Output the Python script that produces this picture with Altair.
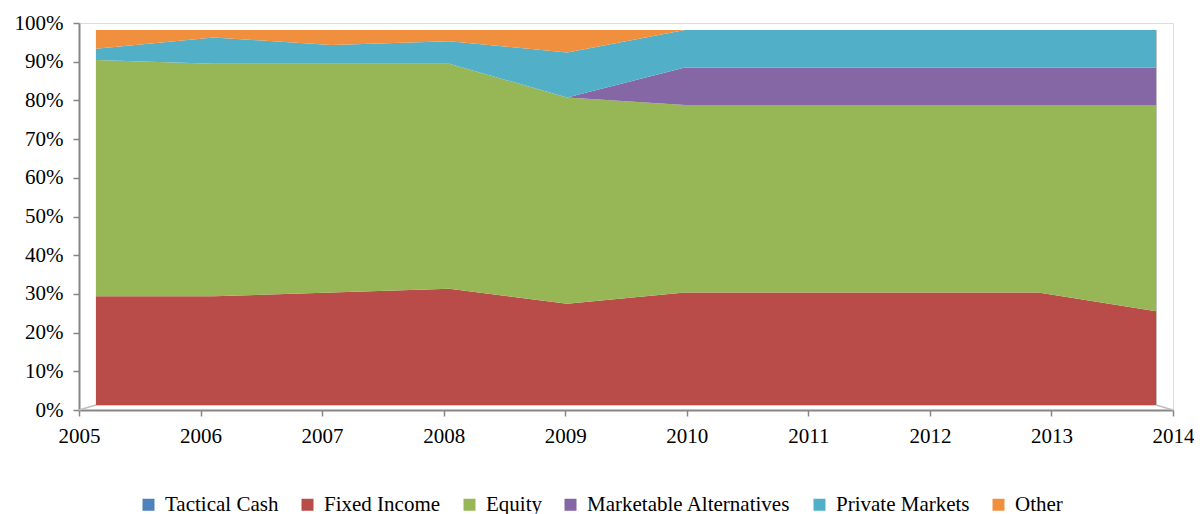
import altair as alt
import pandas as pd

years = [2005, 2006, 2007, 2008, 2009, 2010, 2011, 2012, 2013, 2014]
series_names = ["Tactical Cash", "Fixed Income", "Equity",
                "Marketable Alternatives", "Private Markets", "Other"]
tactical_cash = [0, 0, 0, 0, 0, 0, 0, 0, 0, 0]
fixed_income = [29, 29, 30, 31, 27, 30, 30, 30, 30, 25]
equity = [63, 62, 61, 60, 55, 50, 50, 50, 50, 55]
marketable_alt = [0, 0, 0, 0, 0, 10, 10, 10, 10, 10]
private_markets = [3, 7, 5, 6, 12, 10, 10, 10, 10, 10]
other = [5, 2, 4, 3, 6, 0, 0, 0, 0, 0]
colors = ["#4F81BD", "#B94B48", "#97B656", "#8667A6", "#52AFC8", "#F0903F"]

# 3D-style inset of the area plane relative to the axes (in data units)
X_INSET = 0.1434
Y_LOW = -1.333
Y_HIGH = 101.867

rows = []
for i, name in enumerate(series_names):
    vals = [tactical_cash, fixed_income, equity, marketable_alt, private_markets, other][i]
    for y, v in zip(years, vals):
        rows.append({"Year": y, "Series": name, "Value": v, "ord": i})
df = pd.DataFrame(rows)

FONT = "Liberation Serif"

x_area = alt.Scale(domain=[years[0] - X_INSET, years[-1] + X_INSET], nice=False, zero=False)
y_area = alt.Scale(domain=[Y_LOW, Y_HIGH], nice=False, zero=False)

area = alt.Chart(df).mark_area(opacity=1).encode(
    x=alt.X("Year:Q", scale=x_area, axis=None),
    y=alt.Y("Value:Q", stack="zero", scale=y_area, axis=None),
    color=alt.Color("Series:N",
                    scale=alt.Scale(domain=series_names, range=colors),
                    sort=series_names,
                    legend=alt.Legend(title=None, orient="none", direction="horizontal",
                                      legendX=59, legendY=471, symbolType="square",
                                      symbolSize=144, symbolStrokeWidth=0, symbolOpacity=1,
                                      labelFont=FONT, labelFontSize=21, labelColor="#000000",
                                      labelLimit=0, labelOffset=6, columnPadding=18,
                                      columns=6)),
    order=alt.Order("ord:Q"),
)

# 3D floor / wall edges
edges = pd.DataFrame({
    "x": [years[0], years[0], years[-1], years[-1]],
    "x2": [years[-1], years[0] - X_INSET, years[-1] + X_INSET, years[-1]],
    "y": [0, 0, 0, 0],
    "y2": [0, Y_LOW, Y_LOW, 100],
})
edge_rules = alt.Chart(edges).mark_rule(color="#BFBFBF", strokeWidth=1.5).encode(
    x=alt.X("x:Q", scale=x_area, axis=None),
    x2="x2:Q",
    y=alt.Y("y:Q", scale=y_area, axis=None),
    y2="y2:Q",
)

area_layer = alt.layer(edge_rules, area)

axis_df = pd.DataFrame({"Year": [years[0], years[-1]], "v": [0, 1]})
axis_layer = alt.Chart(axis_df).mark_point(opacity=0).encode(
    x=alt.X("Year:Q", scale=alt.Scale(domain=[years[0], years[-1]], nice=False, zero=False),
            axis=alt.Axis(values=years, format="d", title=None, grid=False,
                          domainColor="#868686", domainWidth=2, tickColor="#868686",
                          tickWidth=1.5, tickSize=6, labelFont=FONT, labelFontSize=21,
                          labelColor="#000000", labelPadding=9, labelFlush=False)),
    y=alt.Y("v:Q", scale=alt.Scale(domain=[0, 1], nice=False),
            axis=alt.Axis(values=[i / 10 for i in range(11)], format=".0%", title=None,
                          grid=False, domainColor="#868686", domainWidth=2,
                          tickColor="#868686", tickWidth=1.5, tickSize=6,
                          labelFont=FONT, labelFontSize=21, labelColor="#000000",
                          labelPadding=10)),
)

chart = alt.layer(axis_layer, area_layer).resolve_scale(
    x="independent", y="independent", color="independent"
).properties(
    width=1094, height=387,
    autosize=alt.AutoSizeParams(type="none"),
    padding={"left": 71, "top": 15, "right": 21, "bottom": 106},
).configure_view(stroke=None).configure(background="#FFFFFF")

chart.save("out.html", embed_options={"renderer": "svg", "actions": False})
